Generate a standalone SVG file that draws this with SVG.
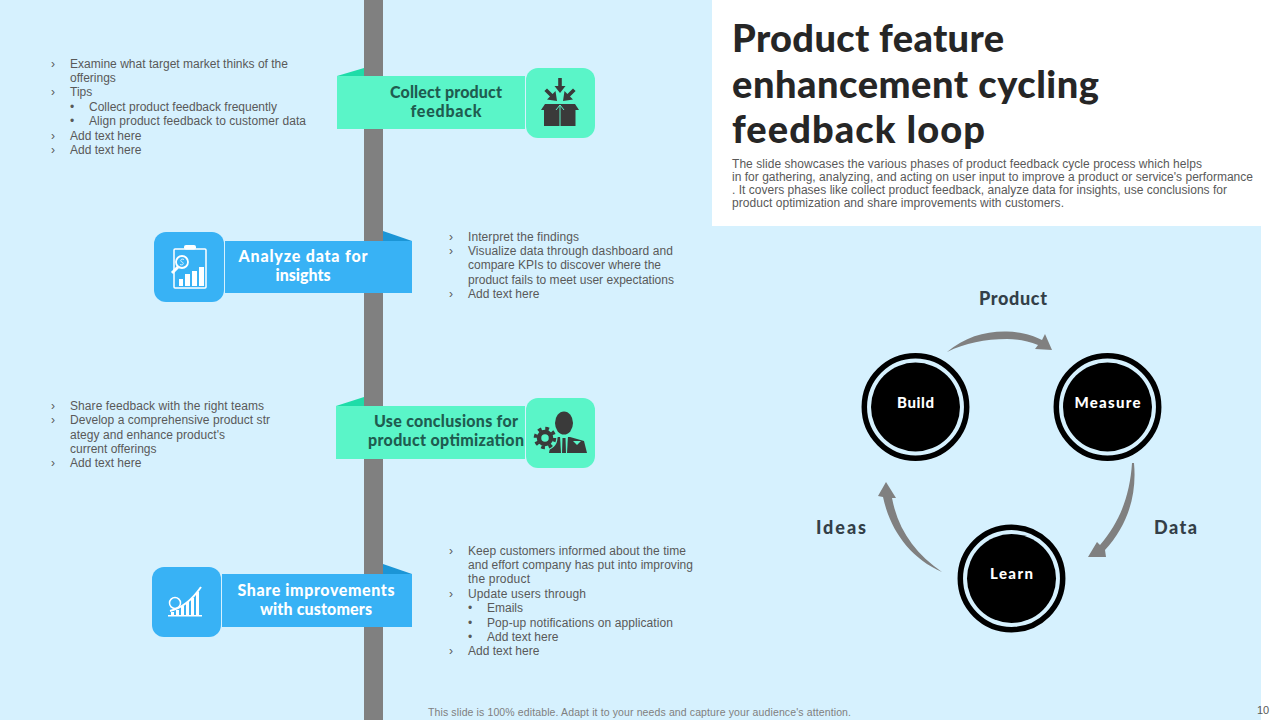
<svg xmlns="http://www.w3.org/2000/svg" width="1280" height="720" viewBox="0 0 1280 720">
<style>
.h{font-family:"Lato","Open Sans",sans-serif;font-weight:900}
.t{font-family:"Liberation Sans",Arial,sans-serif;font-size:12px;fill:#595959}
.tt{font-size:38px;fill:#262626}
.dk{font-size:16px;fill:#1f5c50;text-anchor:middle}
.wh{font-size:16px;fill:#fff;text-anchor:middle}
.lb{font-size:18px;fill:#333f48;text-anchor:middle}
.nl{font-size:15px;fill:#fff;text-anchor:middle}
.mint{fill:#5af5c8}.blue{fill:#38b2f5}.mintd{fill:#1fdca8}.blued{fill:#1b95d6}
.ic{fill:#3a3a3a}.iw{fill:#fff}.iws{fill:none;stroke:#fff;stroke-width:1.5}
.arr{fill:#808080}
.ring{fill:none;stroke:#000;stroke-width:5.500}
</style>
<rect width="1280" height="720" fill="#fff"/>
<rect x="0" y="0" width="712" height="720" fill="#d6f1fe"/>
<rect x="712" y="226" width="549" height="494" fill="#d6f1fe"/>
<rect id="spine" x="364" y="0" width="19" height="720" fill="#808080"/>

<g id="title">
<text class="h tt" x="732" y="52" textLength="272">Product feature</text>
<text class="h tt" x="732" y="98" textLength="367">enhancement cycling</text>
<text class="h tt" x="732" y="143" textLength="253">feedback loop</text>
<g class="t">
<text x="732" y="168" textLength="470">The slide showcases the various phases of product feedback cycle process which helps</text>
<text x="732" y="181" textLength="521">in for gathering, analyzing, and acting on user input to  improve a product or service's performance</text>
<text x="732" y="194" textLength="495">. It covers phases like collect product feedback, analyze data for insights, use conclusions for</text>
<text x="732" y="207" textLength="332">product optimization and share improvements with customers.</text>
</g>
</g>

<g id="step1">
<polygon class="mintd" points="337,76 364,68 364,76"/>
<rect class="mint" x="337" y="76" width="188" height="53"/>
<rect class="mint" x="526" y="68" width="69" height="70" rx="12"/>
<text class="h dk" x="446" y="98" textLength="112">Collect product</text>
<text class="h dk" x="446" y="117" textLength="71">feedback</text>
<g class="ic">
<polygon points="558.200,78 561.800,78 561.800,86 565.500,86 560,93 554.500,86 558.200,86"/>
<polygon points="557,101 555.500,91 552.600,94 547,88.400 544.400,91 550,96.600 547,99.500"/>
<polygon points="563,101 564.500,91 567.400,94 573,88.400 575.600,91 570,96.600 573,99.500"/>
<polygon points="541,110 545,104 575,104 579,110"/>
<rect x="544" y="110" width="31.500" height="16"/>
</g>
<path d="M560,126 V105 M556,110 L560,105 L564,110" fill="none" stroke="#5af5c8" stroke-width="1"/>
</g>

<g id="step2">
<polygon class="blued" points="383,231 412,241 383,241"/>
<rect class="blue" x="225" y="241" width="187" height="52"/>
<rect class="blue" x="154" y="232" width="70" height="70" rx="12"/>
<text class="h wh" x="303" y="262" textLength="129">Analyze data for</text>
<text class="h wh" x="303" y="281" textLength="55">insights</text>
<rect class="iws" x="174" y="249" width="32" height="39" rx="1"/>
<rect class="iw" x="184" y="245" width="12" height="4.500" rx="2"/>
<circle cx="182" cy="262" r="6" fill="#38b2f5" stroke="#fff" stroke-width="1.800"/>
<path d="M184,259.500 C181,258 179.500,261 182,262 C184.500,263 183,266 180,264.500" fill="none" stroke="#fff" stroke-width=".8"/>
<path d="M178,267 L172,273" fill="none" stroke="#fff" stroke-width="3"/>
<rect class="iw" x="179" y="279" width="4" height="7"/>
<rect class="iw" x="185" y="274" width="5" height="12"/>
<rect class="iw" x="192" y="271" width="5" height="15"/>
<rect class="iw" x="199" y="267" width="5" height="19"/>
</g>

<g id="step3">
<polygon class="mintd" points="336,406 364,397 364,406"/>
<rect class="mint" x="336" y="406" width="189" height="53"/>
<rect class="mint" x="526" y="398" width="69" height="70" rx="12"/>
<text class="h dk" x="446" y="427" textLength="144">Use conclusions for</text>
<text class="h dk" x="446" y="446" textLength="156">product optimization</text>
<g class="ic">
<ellipse cx="564" cy="423" rx="9" ry="11.500"/>
<path d="M549,453 L551,442 L558,437 L570,437 L584,441 L587,453 Z"/>
</g>
<circle cx="545" cy="438" r="12.500" fill="#5af5c8"/>
<circle cx="545" cy="438" r="6" fill="none" stroke="#3a3a3a" stroke-width="4.500"/>
<circle cx="545" cy="438" r="9.500" fill="none" stroke="#3a3a3a" stroke-width="3.500" stroke-dasharray="3.700 3.760"/>
<polygon points="560,436 568,436 567,453 561,453" fill="#5af5c8"/>
<polygon points="562.500,438 565.500,438 566,453 562,453" fill="#3a3a3a"/>
<polygon points="573,441 581,441 577,445" fill="#5af5c8"/>
</g>

<g id="step4">
<polygon class="blued" points="383,564 412,574 383,574"/>
<rect class="blue" x="222" y="574" width="190" height="53"/>
<rect class="blue" x="152" y="567" width="69" height="70" rx="12"/>
<text class="h wh" x="316" y="596" textLength="157">Share improvements</text>
<text class="h wh" x="316" y="615" textLength="112">with customers</text>
<circle cx="175" cy="603" r="5.500" fill="none" stroke="#fff" stroke-width="1.500"/>
<rect class="iw" x="168" y="615" width="34" height="1.500"/>
<rect class="iw" x="171" y="612" width="3" height="4"/><rect class="iw" x="176" y="610" width="3" height="6"/>
<rect class="iw" x="181" y="606" width="3" height="10"/><rect class="iw" x="186" y="602" width="3" height="14"/>
<rect class="iw" x="191" y="598" width="3" height="18"/><rect class="iw" x="196" y="592" width="3" height="24"/>
<path d="M170,611 C182,608 192,600 201,587" fill="none" stroke="#fff" stroke-width="2"/>
</g>

<g class="t" id="notes">
<text x="51" y="68">›</text><text x="70" y="68" textLength="218">Examine what target market thinks of the</text>
<text x="70" y="82">offerings</text>
<text x="51" y="96">›</text><text x="70" y="96">Tips</text>
<text x="70" y="111">•</text><text x="89" y="111" textLength="188">Collect product feedback frequently</text>
<text x="70" y="125">•</text><text x="89" y="125" textLength="217">Align product feedback to  customer data</text>
<text x="51" y="140">›</text><text x="70" y="140">Add text here</text>
<text x="51" y="154">›</text><text x="70" y="154">Add text here</text>

<text x="449" y="241">›</text><text x="468" y="241" textLength="111">Interpret the findings</text>
<text x="449" y="255">›</text><text x="468" y="255" textLength="205">Visualize data through dashboard and</text>
<text x="468" y="269" textLength="193">compare KPIs to discover where the</text>
<text x="468" y="284" textLength="206">product fails to meet user expectations</text>
<text x="449" y="298">›</text><text x="468" y="298">Add text here</text>

<text x="51" y="410">›</text><text x="70" y="410" textLength="194">Share feedback with the right teams</text>
<text x="51" y="424">›</text><text x="70" y="424" textLength="200">Develop a comprehensive product str</text>
<text x="70" y="439" textLength="155">ategy and enhance product's</text>
<text x="70" y="453">current offerings</text>
<text x="51" y="467">›</text><text x="70" y="467">Add text here</text>

<text x="449" y="555">›</text><text x="468" y="555" textLength="218">Keep customers informed about the time</text>
<text x="468" y="569" textLength="225">and effort company has put into improving</text>
<text x="468" y="583" textLength="62">the product</text>
<text x="449" y="598">›</text><text x="468" y="598" textLength="118">Update users through</text>
<text x="468" y="612">•</text><text x="487" y="612">Emails</text>
<text x="468" y="627">•</text><text x="487" y="627" textLength="186">Pop-up notifications on application</text>
<text x="468" y="641">•</text><text x="487" y="641">Add text here</text>
<text x="449" y="655">›</text><text x="468" y="655">Add text here</text>
</g>

<g id="connectors">
<path class="arr" d="M947,352 C965,337 985,331 1007,331.500 C1022,332 1033,335 1042,340 L1045,334 L1052,350 L1035,349 L1038,345 C1028,341 1018,339 1007,339 C985,339 965,343 947,352 Z"/>
<path class="arr" d="M1132,463 L1134,463 C1137,495 1128,525 1105,550 L1106,557 L1088,557 L1097,542 L1100,545 C1120,522 1130,495 1132,463 Z"/>
<path class="arr" d="M942,572 C910,558 890,530 883,497 L878,496 L886,482 L896,498 L892,498 C898,530 915,553 942,572 Z"/>
</g>

<g id="build">
<circle class="ring" cx="915.500" cy="407" r="51.200"/>
<circle cx="915.500" cy="407" r="44.500"/>
<text class="h nl" x="915.500" y="408" textLength="37">Build</text>
</g>
<g id="measure">
<circle class="ring" cx="1107.500" cy="407" r="51.200"/>
<circle cx="1107.500" cy="407" r="44.500"/>
<text class="h nl" x="1107.500" y="408" textLength="66">Measure</text>
</g>
<g id="learn">
<circle class="ring" cx="1011.500" cy="578.500" r="51.200"/>
<circle cx="1011.500" cy="578.500" r="44.500"/>
<text class="h nl" x="1011.500" y="579" textLength="43">Learn</text>
</g>
<text class="h lb" x="1013" y="305" textLength="68">Product</text>
<text class="h lb" x="841" y="534" textLength="50">Ideas</text>
<text class="h lb" x="1175.500" y="534" textLength="43">Data</text>

<text x="428" y="716" font-family="Liberation Sans, Arial, sans-serif" font-size="10.500" fill="#7f7f7f" textLength="423">This slide is 100% editable.  Adapt it to your needs and capture your audience's attention.</text>
<text x="1257" y="714" font-family="Liberation Sans, Arial, sans-serif" font-size="11" fill="#595959">10</text>
</svg>
